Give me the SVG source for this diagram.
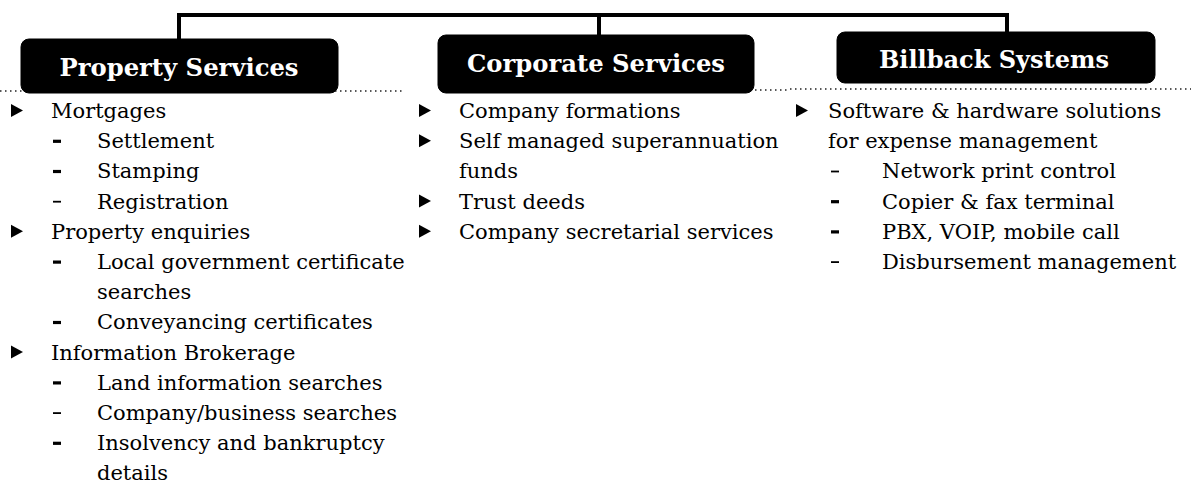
<svg xmlns="http://www.w3.org/2000/svg" xmlns:xlink="http://www.w3.org/1999/xlink" width="1191" height="500" viewBox="0 0 1191 500">
<style>
.box{fill:#000;stroke:#000;stroke-width:1}
.title{font-family:"DejaVu Serif","Liberation Serif",serif;font-weight:bold;font-size:24px;fill:#fff;text-anchor:middle}
.t{font-family:"DejaVu Serif","Liberation Serif",serif;font-size:21px;fill:#000}
.dot{stroke:#222;stroke-width:1.5;stroke-dasharray:1.5 3.5;fill:none}
.conn{stroke:#000;stroke-width:4;fill:none}
</style>
<defs>
<polygon id="bul" points="0,-14 0,-1 12,-7.5" fill="#000"/>
<rect id="dk" x="0" y="-8.5" width="8" height="3.2" fill="#000"/>
<rect id="dt" x="0" y="-7.8" width="8" height="1.8" fill="#000"/>
</defs>
<rect width="1191" height="500" fill="#fff"/>
<g id="connectors">
<path class="conn" d="M179,39 V15 H1007 V32"/>
<path class="conn" d="M599,15 V35"/>
</g>
<line class="dot" x1="0" y1="91" x2="404" y2="91"/>
<line class="dot" x1="440" y1="90" x2="790" y2="90"/>
<line class="dot" x1="790" y1="89" x2="1191" y2="89"/>
<g id="property">
<rect class="box" x="21" y="39" width="317" height="54" rx="8"/>
<text class="title" x="179" y="76" textLength="239" lengthAdjust="spacingAndGlyphs">Property Services</text>
<use xlink:href="#bul" x="11" y="118"/><text class="t" x="51" y="118">Mortgages</text>
<use xlink:href="#dk" x="53" y="148.2"/><text class="t" x="97" y="148.2">Settlement</text>
<use xlink:href="#dk" x="53" y="178.4"/><text class="t" x="97" y="178.4">Stamping</text>
<use xlink:href="#dt" x="53" y="208.6"/><text class="t" x="97" y="208.6">Registration</text>
<use xlink:href="#bul" x="11" y="238.8"/><text class="t" x="51" y="238.8">Property enquiries</text>
<use xlink:href="#dk" x="53" y="269"/><text class="t" x="97" y="269">Local government certificate</text>
<text class="t" x="97" y="299.2">searches</text>
<use xlink:href="#dk" x="53" y="329.4"/><text class="t" x="97" y="329.4">Conveyancing certificates</text>
<use xlink:href="#bul" x="11" y="359.6"/><text class="t" x="51" y="359.6">Information Brokerage</text>
<use xlink:href="#dk" x="53" y="389.8"/><text class="t" x="97" y="389.8">Land information searches</text>
<use xlink:href="#dt" x="53" y="420"/><text class="t" x="97" y="420">Company/business searches</text>
<use xlink:href="#dk" x="53" y="450.2"/><text class="t" x="97" y="450.2">Insolvency and bankruptcy</text>
<text class="t" x="97" y="480.4">details</text>
</g>
<g id="corporate">
<rect class="box" x="438" y="35" width="316" height="58" rx="8"/>
<text class="title" x="596" y="72" textLength="258" lengthAdjust="spacingAndGlyphs">Corporate Services</text>
<use xlink:href="#bul" x="419" y="118"/><text class="t" x="459" y="118">Company formations</text>
<use xlink:href="#bul" x="419" y="148.2"/><text class="t" x="459" y="148.2">Self managed superannuation</text>
<text class="t" x="459" y="178.4">funds</text>
<use xlink:href="#bul" x="419" y="208.6"/><text class="t" x="459" y="208.6">Trust deeds</text>
<use xlink:href="#bul" x="419" y="238.8"/><text class="t" x="459" y="238.8">Company secretarial services</text>
</g>
<g id="billback">
<rect class="box" x="837" y="32" width="318" height="51" rx="8"/>
<text class="title" x="994" y="68" textLength="230" lengthAdjust="spacingAndGlyphs">Billback Systems</text>
<use xlink:href="#bul" x="796" y="118"/><text class="t" x="828" y="118">Software &amp; hardware solutions</text>
<text class="t" x="828" y="148.2">for expense management</text>
<use xlink:href="#dt" x="831" y="178.4"/><text class="t" x="882" y="178.4">Network print control</text>
<use xlink:href="#dk" x="831" y="208.6"/><text class="t" x="882" y="208.6">Copier &amp; fax terminal</text>
<use xlink:href="#dk" x="831" y="238.8"/><text class="t" x="882" y="238.8">PBX, VOIP, mobile call</text>
<use xlink:href="#dt" x="831" y="269"/><text class="t" x="882" y="269">Disbursement management</text>
</g>
</svg>
